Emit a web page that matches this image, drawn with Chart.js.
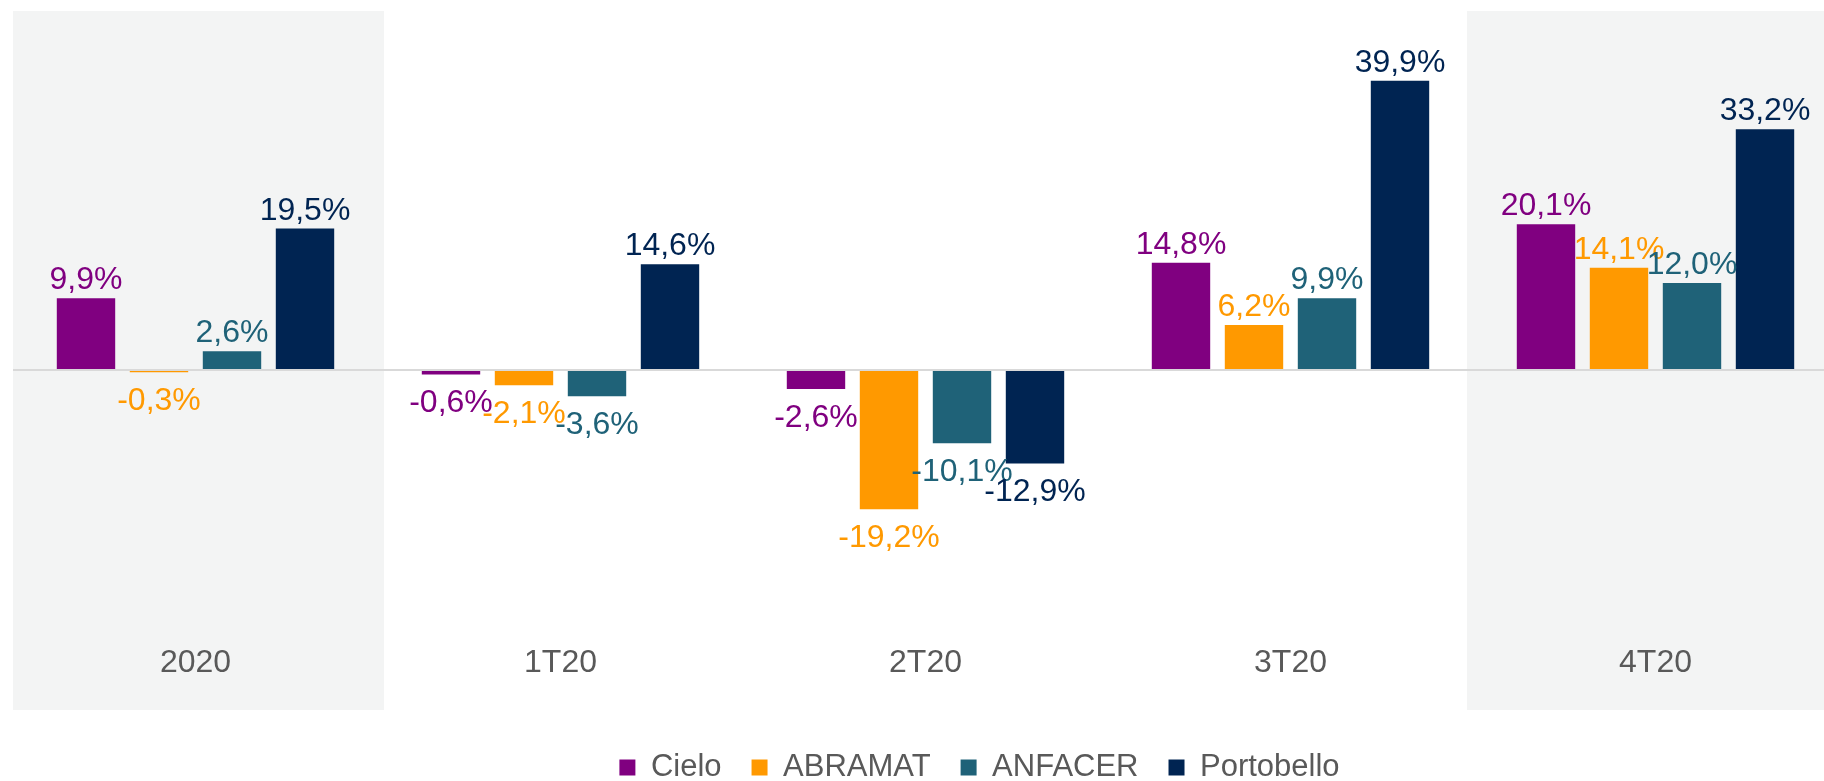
<!DOCTYPE html>
<html lang="pt">
<head>
<meta charset="UTF-8" />
<title>Crescimento</title>
<script src="https://cdn.jsdelivr.net/npm/chart.js"></script>
<style>
  html, body { margin: 0; padding: 0; background: #fff; overflow: hidden; }
  #wrap { width: 1838px; height: 781px; position: relative; }
</style>
</head>
<body>
<div id="wrap"><canvas id="myChart"></canvas></div>
<script>
const categories = ['2020', '1T20', '2T20', '3T20', '4T20'];
const shaded = ['2020', '4T20'];

const seriesNames = ['Cielo', 'ABRAMAT', 'ANFACER', 'Portobello'];
const cielo = [9.9, -0.6, -2.6, 14.8, 20.1];
const abramat = [-0.3, -2.1, -19.2, 6.2, 14.1];
const anfacer = [2.6, -3.6, -10.1, 9.9, 12.0];
const portobello = [19.5, 14.6, -12.9, 39.9, 33.2];

const colors = ['#800080', '#FF9900', '#1F6278', '#002452'];
const values = [cielo, abramat, anfacer, portobello];

const fmt = v => v.toFixed(1).replace('.', ',') + '%';
const FONT = '"Liberation Sans", Arial, sans-serif';

// grey panels behind selected categories
const panels = {
  id: 'panels',
  beforeDraw(chart) {
    const x = chart.scales.x, area = chart.chartArea, ctx = chart.ctx;
    const half = (x.getPixelForValue(1) - x.getPixelForValue(0)) / 2;
    ctx.save();
    ctx.fillStyle = '#F3F4F4';
    shaded.forEach(c => {
      const cx = x.getPixelForValue(categories.indexOf(c));
      const left = Math.max(area.left, cx - half - 6);
      const right = cx + half + 6;
      ctx.fillRect(left, area.top, right - left, x.bottom - area.top);
    });
    ctx.restore();
  }
};

// value labels above / below the bars
const valueLabels = {
  id: 'valueLabels',
  afterDatasetsDraw(chart) {
    const ctx = chart.ctx;
    ctx.save();
    ctx.font = '32px ' + FONT;
    ctx.textAlign = 'center';
    chart.data.datasets.forEach((ds, di) => {
      chart.getDatasetMeta(di).data.forEach((bar, i) => {
        const v = ds.data[i];
        ctx.fillStyle = ds.backgroundColor;
        if (v >= 0) {
          ctx.textBaseline = 'alphabetic';
          ctx.fillText(fmt(v), bar.x, bar.y - 9);
        } else {
          ctx.textBaseline = 'top';
          ctx.fillText(fmt(v), bar.x, bar.y + 13);
        }
      });
    });
    ctx.restore();
  }
};

// legend sits a bit right of centre and lower in the original
const legendShift = {
  id: 'legendShift',
  afterLayout(chart) {
    const lg = chart.legend;
    lg.left += 54;
    lg.right += 54;
    lg.top += 12;
    lg.bottom += 12;
  }
};

const data = {
  labels: categories,
  datasets: seriesNames.map((name, k) => ({
    label: name,
    data: values[k],
    backgroundColor: colors[k],
    barPercentage: 0.8,
    categoryPercentage: 0.8
  }))
};

const config = {
  type: 'bar',
  data: data,
  options: {
    responsive: true,
    maintainAspectRatio: false,
    animation: false,
    layout: { padding: { left: 13, right: 0, top: 11, bottom: 0 } },
    scales: {
      x: {
        grid: { display: false, drawTicks: false },
        border: { display: false },
        ticks: {
          color: '#595959',
          padding: 0,
          font: { family: FONT, size: 32, lineHeight: 2.94 }
        }
      },
      y: {
        min: -33.9,
        max: 49.5,
        ticks: { display: false, stepSize: 10 },
        border: { display: false },
        grid: {
          drawTicks: false,
          lineWidth: 2,
          color: c => c.tick.value === 0 ? '#D9D9D9' : 'rgba(0,0,0,0)'
        }
      }
    },
    plugins: {
      tooltip: { enabled: false },
      legend: {
        position: 'bottom',
        labels: {
          boxWidth: 16,
          boxHeight: 16,
          padding: 30,
          color: '#595959',
          font: { family: FONT, size: 31 }
        }
      }
    }
  },
  plugins: [panels, valueLabels, legendShift]
};

const myChart = new Chart(document.getElementById('myChart'), config);
</script>
</body>
</html>
